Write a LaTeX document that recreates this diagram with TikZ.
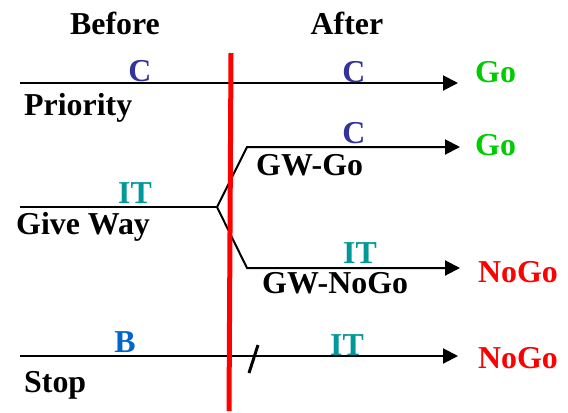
\documentclass[tikz,border=0pt]{standalone}
\usepackage{fontspec}
\setmainfont{Liberation Serif}
\usetikzlibrary{arrows.meta}
\definecolor{cblue}{HTML}{333399}
\definecolor{iteal}{HTML}{009999}
\definecolor{gogreen}{HTML}{00CC00}
\definecolor{bblue}{HTML}{0066CC}
\definecolor{redline}{HTML}{FF0000}
\tikzset{
  lbl/.style={font=\fontsize{32}{36}\selectfont\bfseries, inner sep=0pt, anchor=base},
  lleft/.style={lbl, anchor=base west},
  road/.style={line width=2bp, line join=miter},
  arr/.style={road, -{Triangle[length=15bp,width=15bp]}},
  divider/.style={line width=5bp, draw=redline},
}
\begin{document}
\begin{tikzpicture}[x=1bp,y=-1bp]
\useasboundingbox (0,0) rectangle (568,412);
% headings
\node[lbl] (before) at (115,34) {Before};
\node[lbl] (after) at (347,34) {After};
% coordinates
\coordinate (p0) at (20,83);
\coordinate (p1) at (458,83);
\coordinate (g0) at (20,207);
\coordinate (gf) at (217,207);
\coordinate (gu) at (247,147);
\coordinate (gu1) at (460,147);
\coordinate (gd) at (247,268);
\coordinate (gd1) at (460,268);
\coordinate (s0) at (20,356);
\coordinate (s1) at (458,356);
\coordinate (sl0) at (249,373);
\coordinate (sl1) at (258,345);
\coordinate (r0) at (231,53);
\coordinate (r1) at (229,411);
% roads
\draw[arr] (p0) -- (p1);
\draw[road] (g0) -- (gf);
\draw[arr] (gf) -- (gu) -- (gu1);
\draw[arr] (gf) -- (gd) -- (gd1);
\draw[arr] (s0) -- (s1);
\draw[road, line width=3bp] (sl0) -- (sl1);
% red divider
\draw[divider] (r0) -- (r1);
% labels
\node[lbl, text=cblue] (c1) at (140,81) {C};
\node[lleft] (prio) at (24,115) {Priority};
\node[lbl, text=cblue] (c2) at (354,82) {C};
\node[lleft, text=gogreen] (go1) at (475,82) {Go};
\node[lbl, text=iteal] (it1) at (135,203) {IT};
\node[lleft] (gw) at (16,234) {Give Way};
\node[lbl, text=cblue] (c3) at (354,143) {C};
\node[lleft, text=gogreen] (go2) at (475,155) {Go};
\node[lleft] (gwgo) at (256,175) {GW-Go};
\node[lbl, text=iteal] (it2) at (360,263) {IT};
\node[lleft, text=redline] (nogo1) at (478,282) {NoGo};
\node[lleft] (gwnogo) at (262,293) {GW-NoGo};
\node[lbl, text=bblue] (b) at (125,352) {B};
\node[lleft] (stop) at (24,392) {Stop};
\node[lbl, text=iteal] (it3) at (347,355) {IT};
\node[lleft, text=redline] (nogo2) at (478,368) {NoGo};
\end{tikzpicture}
\end{document}
